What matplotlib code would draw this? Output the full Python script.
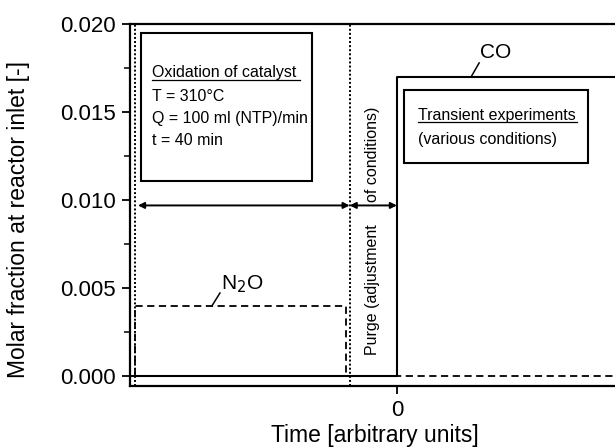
import matplotlib.pyplot as plt
from matplotlib.ticker import MultipleLocator

plt.rcParams['font.family'] = ['Liberation Sans', 'DejaVu Sans']

# inlet concentration profiles (time in arbitrary units, 0 = start of transient)
co_time = [-1.0, 0.0, 0.0, 0.84]
co_frac = [0.0, 0.0, 0.0170, 0.0170]
n2o_time = [-0.98, -0.98, -0.19, -0.19, 0.84]
n2o_frac = [0.0, 0.0040, 0.0040, 0.0, 0.0]

oxidation_start = -0.98
purge_start = -0.177
arrow_level = 0.0097

fig = plt.figure(figsize=(6.15, 4.47), dpi=100)
ax = fig.add_axes([130 / 615, 61 / 447, 1 - 130 / 615 + 0.01, 362 / 447])

ax.plot(co_time, co_frac, color='black', lw=1.5)
ax.plot(n2o_time, n2o_frac, color='black', lw=1.3, ls=(0, (4, 2.5)))

for x in (oxidation_start, purge_start):
    ax.axvline(x, color='black', lw=1.4, ls=(0, (1, 1.1)))

arrow_style = dict(arrowstyle='<|-|>', color='black', lw=1.4, mutation_scale=9,
                   shrinkA=0, shrinkB=0)
ax.annotate('', xy=(oxidation_start + 0.01, arrow_level), xytext=(purge_start, arrow_level),
            arrowprops=arrow_style)
ax.annotate('', xy=(purge_start, arrow_level), xytext=(0.0, arrow_level),
            arrowprops=arrow_style)

# boxes
ax.add_patch(plt.Rectangle((-0.959, 0.01109), 0.641, 0.0084, fill=False,
                           ec='black', lw=1.5))
ax.add_patch(plt.Rectangle((0.027, 0.01211), 0.69, 0.00414, fill=False,
                           ec='black', lw=1.5))

txt = dict(fontsize=11.5, color='black', ha='left', va='center')
ax.text(-0.9175, 0.01722, 'Oxidation of catalyst', **txt)
ax.plot([-0.9175, -0.363], [0.01682, 0.01682], color='black', lw=0.9)
ax.text(-0.9175, 0.01591, 'T = 310°C', **txt)
ax.text(-0.9175, 0.01461, 'Q = 100 ml (NTP)/min', **txt)
ax.text(-0.9175, 0.01336, 't = 40 min', **txt)

ax.text(0.0795, 0.01478, 'Transient experiments', **txt)
ax.plot([0.0795, 0.675], [0.01444, 0.01444], color='black', lw=0.9)
ax.text(0.0795, 0.01347, '(various conditions)', **txt)

ax.text(-0.093, 0.0099, 'of conditions)', rotation=90, fontsize=11.5,
        ha='center', va='bottom')
ax.text(-0.093, 0.0012, 'Purge (adjustment', rotation=90, fontsize=11.5,
        ha='center', va='bottom')

# labels of the curves
ax.text(0.368, 0.01841, 'CO', fontsize=15, ha='center', va='center')
ax.plot([0.278, 0.308], [0.0170, 0.01779], color='black', lw=1.1)
ax.text(-0.580, 0.00524, 'N$_2$O', fontsize=15, ha='center', va='center')
ax.plot([-0.693, -0.663], [0.0040, 0.00473], color='black', lw=1.1)

ax.set_xlim(-1.0, 0.84)
ax.set_ylim(-0.00055, 0.0200)
ax.set_xticks([0])
ax.set_xticklabels(['0'])
ax.yaxis.set_major_locator(MultipleLocator(0.005))
ax.yaxis.set_minor_locator(MultipleLocator(0.0025))
ax.yaxis.set_major_formatter(plt.FormatStrFormatter('%.3f'))
ax.tick_params(direction='out', length=6, width=1.3, labelsize=16, pad=4)
ax.tick_params(which='minor', direction='out', length=4, width=1.1)
for side in ('left', 'bottom', 'top'):
    ax.spines[side].set_linewidth(1.6)
ax.spines['right'].set_visible(False)

ax.set_xlabel('Time [arbitrary units]', fontsize=16.5)
ax.set_ylabel('Molar fraction at reactor inlet [-]', fontsize=16.5)
ax.xaxis.set_label_coords(0.499, -0.105)
ax.yaxis.set_label_coords(-0.203, 0.459)

fig.savefig('out.png', dpi=100)
